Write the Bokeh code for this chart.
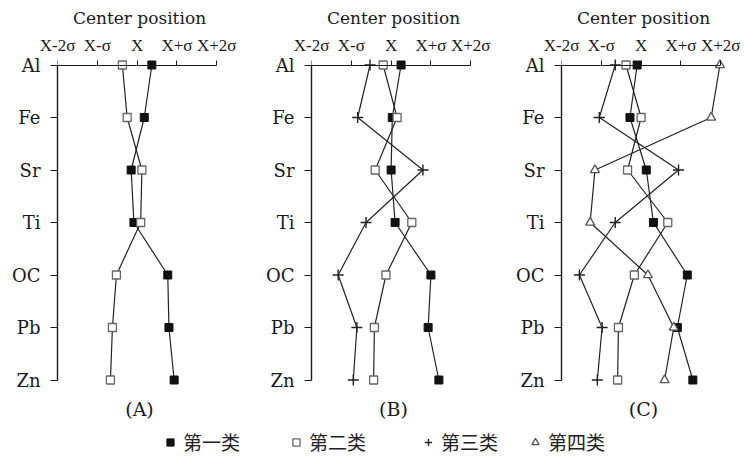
from bokeh.plotting import figure
from bokeh.models import Range1d, FixedTicker, LinearAxis, Title, Legend, LegendItem
from bokeh.layouts import column, row
from bokeh.embed import file_html
from bokeh.resources import INLINE

elements = ["Al", "Fe", "Sr", "Ti", "OC", "Pb", "Zn"]
tick_values = [-2, -1, 0, 1, 2]
tick_labels = ["X-2σ", "X-σ", "X", "X+σ", "X+2σ"]

a_class1 = [0.37, 0.18, -0.15, -0.08, 0.77, 0.80, 0.93]
a_class2 = [-0.37, -0.25, 0.12, 0.09, -0.52, -0.62, -0.67]

b_class1 = [0.25, 0.03, 0.00, 0.10, 1.00, 0.93, 1.20]
b_class2 = [-0.20, 0.15, -0.40, 0.52, -0.13, -0.42, -0.44]
b_class3 = [-0.53, -0.84, 0.80, -0.63, -1.33, -0.86, -0.95]

c_class1 = [-0.10, -0.28, 0.13, 0.31, 1.16, 0.91, 1.30]
c_class2 = [-0.38, 0.00, -0.34, 0.67, -0.17, -0.57, -0.59]
c_class3 = [-0.65, -1.05, 0.94, -0.65, -1.55, -0.98, -1.10]
c_class4 = [1.98, 1.76, -1.16, -1.28, 0.17, 0.82, 0.59]

legend_labels = ["第一类", "第二类", "第三类", "第四类"]
panel_labels = ["(A)", "(B)", "(C)"]
axis_title = "Center position"

SERIF = "DejaVu Serif"
TIMES = "Liberation Serif"
INK = "#1a1a1a"

marker_styles = [
    dict(marker="square", size=8, fill_color="#111111", line_color="#111111", line_width=1),
    dict(marker="square", size=8, fill_color="white", line_color="#666666", line_width=1.3),
    dict(marker="cross", size=11, fill_color=None, line_color="#222222", line_width=1.4),
    dict(marker="triangle", size=9, fill_color="white", line_color="#555555", line_width=1.3),
]

ypos = list(range(len(elements)))


def make_panel(series_list, label, width, right_border):
    p = figure(width=width, height=424,
               x_range=Range1d(-2, 2.12), y_range=Range1d(6.2, -0.2),
               output_backend="svg", toolbar_location=None,
               x_axis_location=None, y_axis_location=None,
               min_border_left=57, min_border_right=right_border,
               min_border_top=54, min_border_bottom=33)
    p.grid.visible = False
    p.outline_line_color = None

    left = LinearAxis(ticker=FixedTicker(ticks=ypos),
                      major_label_overrides={i: e for i, e in zip(ypos, elements)},
                      bounds=(0, len(elements) - 1))
    left.axis_line_color = INK
    left.axis_line_width = 1.4
    left.major_tick_line_color = INK
    left.major_tick_out = 7
    left.major_tick_in = 0
    left.minor_tick_line_color = None
    left.major_label_standoff = 10
    left.major_label_text_font = SERIF
    left.major_label_text_font_size = "18px"
    left.major_label_text_color = INK
    p.add_layout(left, "left")

    # labels of the top scale, at the frame's top edge
    top_lab = LinearAxis(ticker=FixedTicker(ticks=tick_values),
                         major_label_overrides={v: t for v, t in zip(tick_values, tick_labels)},
                         axis_label=axis_title)
    top_lab.axis_line_color = None
    top_lab.major_tick_line_color = None
    top_lab.minor_tick_line_color = None
    top_lab.major_tick_out = 0
    top_lab.major_tick_in = 0
    top_lab.major_label_standoff = 0
    top_lab.major_label_text_font = TIMES
    top_lab.major_label_text_font_size = "17px"
    top_lab.major_label_text_color = INK
    top_lab.axis_label_text_font = SERIF
    top_lab.axis_label_text_font_size = "17px"
    top_lab.axis_label_text_font_style = "normal"
    top_lab.axis_label_text_color = INK
    top_lab.axis_label_standoff = 5
    p.add_layout(top_lab, "above")

    # the top scale's line and ticks, drawn through the Al row
    top = LinearAxis(ticker=FixedTicker(ticks=tick_values),
                     bounds=(-2, 2), fixed_location=0)
    top.axis_line_color = INK
    top.axis_line_width = 1.1
    top.major_tick_line_color = INK
    top.major_tick_out = 5
    top.major_tick_in = 0
    top.minor_tick_line_color = None
    top.major_label_standoff = 0
    top.major_label_text_alpha = 0
    top.major_label_text_font_size = "1px"
    p.add_layout(top, "above")

    for vals in series_list:
        p.line(vals, ypos, line_color="#222222", line_width=1.2)
    for i, vals in enumerate(series_list):
        p.scatter(vals, ypos, **marker_styles[i])

    p.add_layout(Title(text=label, align="center", text_font=SERIF,
                       text_font_size="19px", text_font_style="normal",
                       standoff=10, text_color=INK), "below")
    return p


pa = make_panel([a_class1, a_class2], panel_labels[0], 254, 33)
pb = make_panel([b_class1, b_class2, b_class3], panel_labels[1], 250, 29)
pc = make_panel([c_class1, c_class2, c_class3, c_class4], panel_labels[2], 241, 20)

leg = figure(width=745, height=35, x_range=Range1d(0, 1), y_range=Range1d(0, 1),
             output_backend="svg", toolbar_location=None,
             x_axis_location=None, y_axis_location=None,
             min_border_left=0, min_border_right=0, min_border_top=0, min_border_bottom=0)
leg.grid.visible = False
leg.outline_line_color = None
legend_x = [161, 287, 419, 526]
for lab, st, lx in zip(legend_labels, marker_styles, legend_x):
    s = dict(st)
    s["size"] = 7
    r = leg.scatter([-10], [-10], **s)
    lg = Legend(items=[LegendItem(label=lab, renderers=[r])], orientation="horizontal",
                location=(lx, 4), glyph_width=18, glyph_height=18, label_standoff=4,
                padding=0, margin=0, border_line_color=None, background_fill_alpha=0,
                label_text_font="Noto Sans CJK SC", label_text_font_size="19px",
                label_text_color="#222222")
    leg.add_layout(lg, "center")

layout = column(row(pa, pb, pc), leg)
open("out.html", "w").write(file_html(layout, INLINE))
